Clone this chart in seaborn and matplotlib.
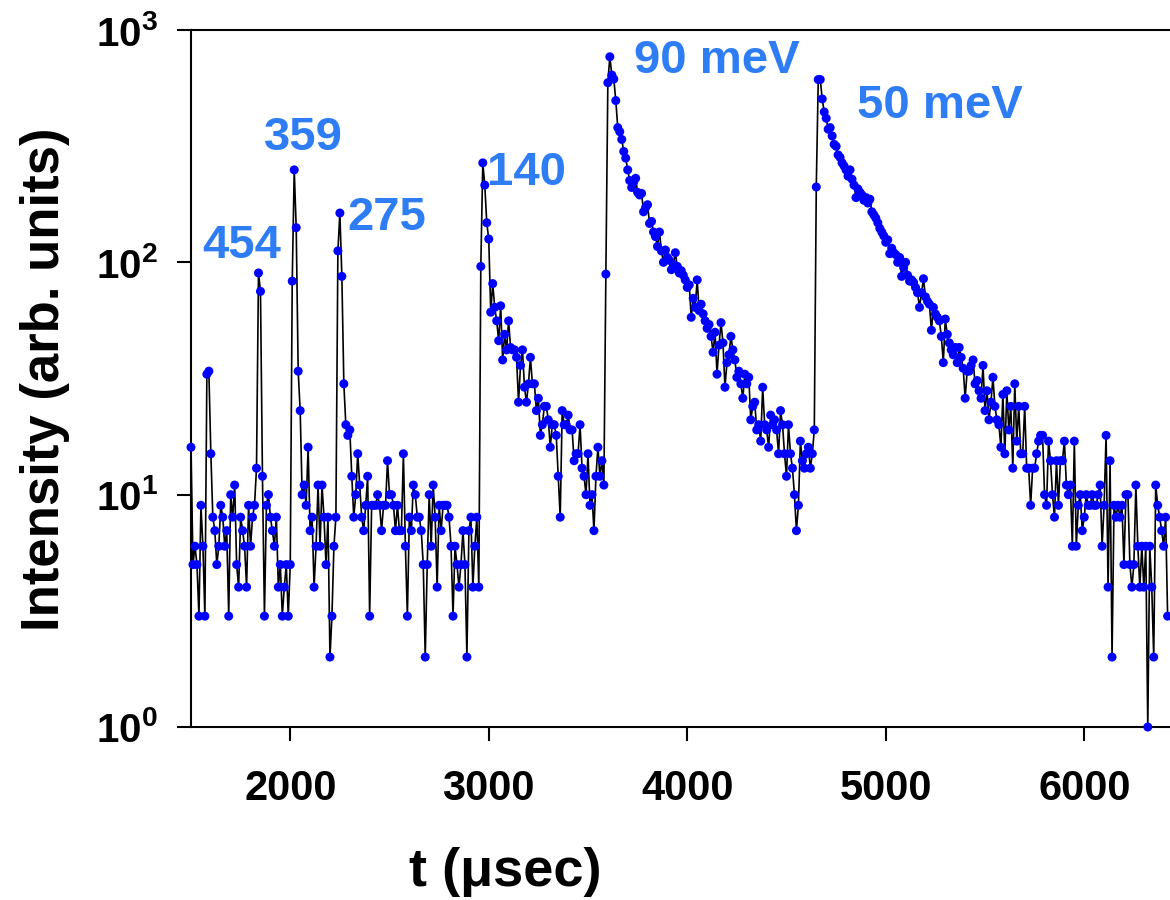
import numpy as np
import pandas as pd
import seaborn as sns
import matplotlib.pyplot as plt
from matplotlib.ticker import NullLocator

# ---------- data: counts per 10 usec time bin, starting at 1500 usec ----------
T_START = 1500
T_STEP = 10

counts_1500 = [16, 5, 6, 5, 3, 9, 6, 3, 33, 34,
               15, 8, 7, 5, 6, 9, 8, 6, 7, 3,
               10, 8, 11, 5, 4, 8, 7, 6, 4, 9,
               6, 8, 9, 13, 90, 75, 12, 3, 9, 10,
               8, 7, 6, 8, 4, 5, 3, 4, 5, 3]
counts_2000 = [5, 83, 250, 141, 34, 23, 10, 11, 9, 16,
               7, 8, 4, 6, 11, 6, 11, 8, 5, 8,
               2, 3, 6, 8, 112, 163, 87, 30, 20, 18,
               19, 12, 8, 10, 15, 11, 8, 7, 9, 12,
               3, 9, 9, 9, 10, 9, 7, 9, 9, 14]
counts_2500 = [10, 10, 9, 7, 9, 7, 7, 15, 6, 3,
               8, 7, 11, 10, 8, 8, 7, 5, 2, 5,
               10, 6, 11, 8, 4, 9, 7, 9, 9, 9,
               8, 6, 3, 6, 5, 4, 5, 7, 5, 2,
               7, 8, 4, 6, 8, 4, 96, 268, 215, 148]
counts_3000 = [126, 61, 81, 64, 56, 46, 65, 38, 49, 42,
               56, 43, 42, 42, 39, 25, 36, 42, 29, 25,
               30, 39, 30, 30, 23, 26, 18, 20, 24, 24,
               21, 16, 20, 20, 18, 12, 8, 23, 20, 20,
               22, 19, 19, 14, 15, 15, 20, 13, 12, 10]
counts_3500 = [15, 9, 10, 7, 12, 16, 12, 14, 11, 89,
               593, 767, 640, 615, 497, 380, 365, 338, 300, 281,
               250, 225, 210, 222, 230, 200, 195, 198, 165, 172,
               177, 147, 150, 135, 129, 117, 135, 112, 100, 113,
               105, 102, 93, 98, 110, 96, 90, 92, 88, 84]
counts_4000 = [78, 80, 58, 70, 64, 84, 62, 66, 60, 56,
               52, 54, 48, 41, 50, 33, 44, 55, 45, 29,
               37, 40, 48, 42, 38, 32, 34, 30, 26, 33,
               30, 32, 21, 24, 25, 19, 20, 17, 29, 20,
               19, 16, 22, 20, 21, 19, 15, 23, 20, 15]
counts_4500 = [12, 20, 15, 13, 10, 7, 9, 17, 14, 13,
               15, 16, 13, 15, 19, 211, 612, 612, 505, 444,
               417, 374, 380, 350, 322, 316, 290, 283, 268, 260,
               250, 235, 250, 228, 215, 190, 207, 200, 195, 185,
               190, 180, 187, 165, 160, 155, 148, 140, 135, 130]
counts_5000 = [122, 125, 109, 115, 110, 108, 100, 105, 87, 95,
               100, 88, 83, 84, 82, 78, 74, 64, 74, 85,
               71, 68, 66, 51, 64, 60, 58, 56, 48, 37,
               57, 49, 45, 42, 40, 43, 37, 43, 39, 35,
               26, 34, 34, 36, 38, 30, 31, 28, 26, 36]
counts_5500 = [23, 28, 21, 25, 32, 24, 21, 20, 16, 27,
               15, 28, 19, 24, 13, 30, 17, 24, 15, 15,
               24, 13, 13, 9, 13, 13, 15, 17, 18, 18,
               10, 9, 17, 14, 10, 8, 14, 9, 14, 14,
               17, 11, 10, 11, 6, 17, 6, 9, 10, 7]
counts_6000 = [8, 10, 9, 9, 10, 9, 9, 10, 11, 6,
               9, 18, 4, 14, 2, 9, 8, 9, 8, 9,
               5, 10, 10, 5, 4, 5, 11, 6, 4, 6,
               4, 6, 1, 6, 4, 2, 11, 9, 8, 7,
               6, 8, 3]

peak_labels = ["454", "359", "275", "140", "90 meV", "50 meV"]
peak_label_t = [1557, 1869, 2287, 2992, 3733, 4856]
peak_label_y = [104, 304, 138, 215, 653, 418]

counts = (counts_1500 + counts_2000 + counts_2500 + counts_3000 + counts_3500
          + counts_4000 + counts_4500 + counts_5000 + counts_5500 + counts_6000)
t = T_START + T_STEP * np.arange(len(counts))
df = pd.DataFrame({"t": t, "counts": counts})

# ---------- style ----------
sns.set_theme(style="white")
plt.rcParams["font.family"] = ["Liberation Sans", "DejaVu Sans"]
plt.rcParams["font.weight"] = "bold"
plt.rcParams["mathtext.fontset"] = "custom"
plt.rcParams["mathtext.rm"] = "Liberation Sans:bold"
plt.rcParams["mathtext.bf"] = "Liberation Sans:bold"
plt.rcParams["mathtext.default"] = "bf"
for key in ["text.color", "axes.labelcolor", "xtick.color", "ytick.color"]:
    plt.rcParams[key] = "black"

W, H = 1170, 900
fig = plt.figure(figsize=(W / 100, H / 100), dpi=100)
ax = fig.add_axes([191 / W, 173 / H, 992.5 / W, 697 / H])

sns.lineplot(data=df, x="t", y="counts", ax=ax, color="black", lw=1.2, zorder=2)
sns.scatterplot(data=df, x="t", y="counts", ax=ax, color="#0000FF", s=42,
                edgecolor="none", zorder=3, clip_on=False)

ax.set_yscale("log")
ax.set_ylim(1, 1000)
ax.set_xlim(1500, 6500)
ax.set_yticks([1, 10, 100, 1000])
ax.set_yticklabels([r"$10^{0}$", r"$10^{1}$", r"$10^{2}$", r"$10^{3}$"])
ax.yaxis.set_minor_locator(NullLocator())
ax.set_xticks([2000, 3000, 4000, 5000, 6000])
ax.set_xticklabels(["2000", "3000", "4000", "5000", "6000"])

ax.tick_params(axis="both", direction="out", length=10, width=1.5,
               color="black", labelcolor="black", bottom=True, left=True)
ax.tick_params(axis="x", labelsize=30, pad=20)
ax.tick_params(axis="y", labelsize=29, pad=14)
for sp in ax.spines.values():
    sp.set_color("black")
    sp.set_linewidth(1.5)

ax.set_xlabel("t (\u03bcsec)", fontsize=39, fontweight="bold", color="black")
ax.xaxis.set_label_coords(0.317, -0.172)
ax.set_ylabel("Intensity (arb. units)", fontsize=38, fontweight="bold", color="black")
ax.yaxis.set_label_coords(-0.122, 0.499)

for lab, xt, yt in zip(peak_labels, peak_label_t, peak_label_y):
    ax.text(xt, yt, lab, color="#2F7DF5", fontsize=34, fontweight="bold",
            ha="left", va="baseline")

fig.savefig("out.png", dpi=100)
